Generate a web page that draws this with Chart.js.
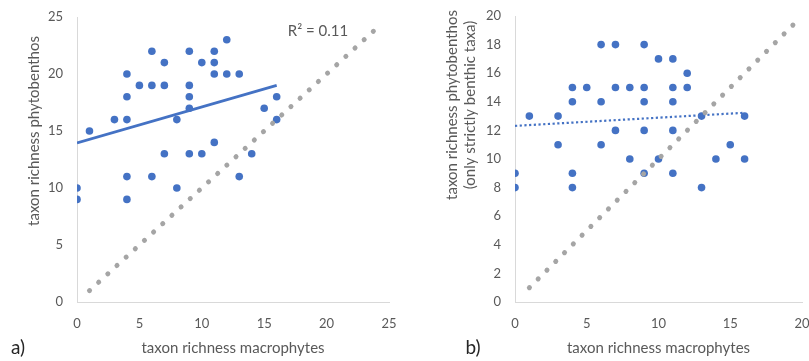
<!DOCTYPE html>
<html>
<head>
<meta charset="utf-8">
<script src="https://cdn.jsdelivr.net/npm/chart.js@4"></script>
<style>
  body { margin: 0; background: #fff; }
  #wrap { position: relative; width: 809px; height: 361px; }
  canvas { position: absolute; top: 0; }
  #chartA { left: 0; }
  #chartB { left: 404px; }
</style>
</head>
<body>
<div id="wrap">
  <canvas id="chartA" width="404" height="361"></canvas>
  <canvas id="chartB" width="405" height="361"></canvas>
</div>
<script>
// a) all taxa
const macroA = [0,0,1,3,4,4,4,4,4,5,6,6,6,7,7,7,8,8,9,9,9,9,9,10,10,11,11,11,11,12,12,13,13,14,15,16,16];
const phytoA = [10,9,15,16,16,18,20,11,9,19,19,22,11,21,19,13,16,10,22,19,18,17,13,21,13,22,21,20,14,23,20,20,11,13,17,18,16];
// b) only strictly benthic taxa
const macroB = [0,0,1,3,3,4,4,4,4,5,6,6,6,7,7,7,8,8,9,9,9,9,9,10,10,11,11,11,11,11,12,12,13,13,14,15,16,16];
const phytoB = [9,8,13,13,11,15,14,9,8,15,18,14,11,18,15,12,15,10,18,15,14,12,9,17,10,17,15,14,12,9,16,15,13,8,10,11,13,10];

// axis ranges [min, max, step]
const xAxisA = [0, 25, 5], yAxisA = [0, 25, 5];
const xAxisB = [0, 20, 5], yAxisB = [0, 20, 2];
// 1:1 line start / end
const diagA = [1, 24.4];
const diagB = [1, 19.8];

const xTitle = "taxon richness macrophytes";
const yTitleA = "taxon richness phytobenthos";
const yTitleB = ["taxon richness phytobenthos", "(only strictly benthic taxa)"];
const r2LabelA = "R\u00b2 = 0.11";

const BLUE = "#4472C4";
const GREY = "#A5A5A5";
const TXT = "#595959";
const FONT = "Lato";

function fit(xs, ys) {
  const n = xs.length;
  const mx = xs.reduce((a, b) => a + b, 0) / n;
  const my = ys.reduce((a, b) => a + b, 0) / n;
  let sxy = 0, sxx = 0;
  for (let i = 0; i < n; i++) {
    sxy += (xs[i] - mx) * (ys[i] - my);
    sxx += (xs[i] - mx) * (xs[i] - mx);
  }
  const m = sxy / sxx;
  const b = my - m * mx;
  const x0 = Math.min(...xs), x1 = Math.max(...xs);
  return [{x: x0, y: b + m * x0}, {x: x1, y: b + m * x1}];
}

// free text drawn on the canvas (axis titles, panel letters)
function textPlugin(items) {
  return {
    id: "freeText",
    afterDraw(chart) {
      const ctx = chart.ctx;
      items.forEach(t => {
        ctx.save();
        ctx.translate(t.x, t.y);
        if (t.rot) ctx.rotate(t.rot);
        ctx.font = t.font;
        ctx.fillStyle = t.color;
        ctx.textAlign = "center";
        ctx.textBaseline = "middle";
        ctx.fillText(t.text, 0, 0);
        ctx.restore();
      });
    }
  };
}

function build(id, xs, ys, xr, yr, diag, dashed, box, texts) {
  const pts = xs.map((x, i) => ({x: x, y: ys[i]}));
  return new Chart(document.getElementById(id), {
    type: "scatter",
    data: {
      datasets: [
        {
          type: "line",
          data: [{x: diag[0], y: diag[0]}, {x: diag[1], y: diag[1]}],
          borderColor: GREY,
          borderWidth: 5,
          borderDash: [0.1, 12.3],
          borderCapStyle: "round",
          pointRadius: 0,
          fill: false
        },
        {
          type: "line",
          data: fit(xs, ys),
          borderColor: BLUE,
          borderWidth: dashed ? 2.2 : 2.8,
          borderDash: dashed ? [2.2, 2.5] : [],
          pointRadius: 0,
          fill: false
        },
        {
          data: pts,
          backgroundColor: BLUE,
          borderWidth: 0,
          pointRadius: 3.8,
          pointHoverRadius: 3.8
        }
      ]
    },
    options: {
      responsive: false,
      animation: false,
      events: [],
      layout: { padding: { top: box.top, right: box.right, left: 0, bottom: 0 } },
      plugins: { legend: { display: false }, tooltip: { enabled: false } },
      scales: {
        x: {
          type: "linear",
          min: xr[0], max: xr[1],
          ticks: { stepSize: xr[2], padding: 14, color: TXT, font: { family: FONT, size: 13 } },
          grid: { display: false, drawTicks: false },
          border: { display: true, color: "#D9D9D9", width: 1 },
          title: { display: true, text: xTitle, color: TXT, font: { family: FONT, size: 15 }, padding: { top: 0, bottom: 4 } },
          afterFit: s => { s.height = 59; s.paddingLeft = 0; s.paddingRight = 0; }
        },
        y: {
          min: yr[0], max: yr[1],
          ticks: { stepSize: yr[2], padding: 14, color: TXT, font: { family: FONT, size: 13 } },
          grid: { display: false, drawTicks: false },
          border: { display: true, color: "#D9D9D9", width: 1 },
          afterFit: s => { s.width = box.left; s.paddingTop = 0; s.paddingBottom = 0; }
        }
      }
    },
    plugins: [textPlugin(texts)]
  });
}

build("chartA", macroA, phytoA, xAxisA, yAxisA, diagA, false,
  { left: 77, right: 15, top: 17 },
  [
    { text: yTitleA, x: 34, y: 131, rot: -Math.PI / 2, font: "15px " + FONT, color: TXT },
    { text: r2LabelA, x: 318, y: 31, font: "15px " + FONT, color: TXT },
    { text: "a)", x: 18, y: 348, font: "19px " + FONT, color: "#262626" }
  ]);

build("chartB", macroB, phytoB, xAxisB, yAxisB, diagB, true,
  { left: 111, right: 7, top: 16 },
  [
    { text: yTitleB[0], x: 48, y: 105, rot: -Math.PI / 2, font: "15px " + FONT, color: TXT },
    { text: yTitleB[1], x: 66, y: 105, rot: -Math.PI / 2, font: "15px " + FONT, color: TXT },
    { text: "b)", x: 69, y: 348, font: "19px " + FONT, color: "#262626" }
  ]);
</script>
</body>
</html>
